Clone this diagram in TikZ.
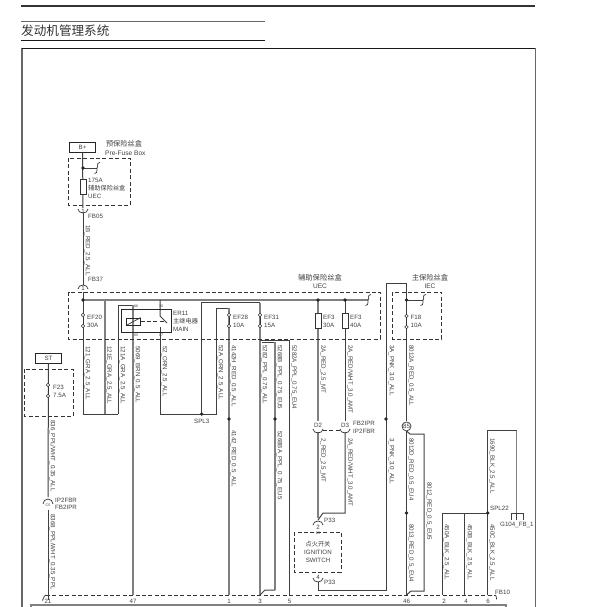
\documentclass[tikz,border=0pt]{standalone}
\usepackage{xcolor}
\usepackage{fontspec}
\setmainfont{Liberation Sans}
\newfontfamily\cjk{Noto Sans CJK SC}
\usetikzlibrary{positioning}
\definecolor{inkgrey}{gray}{0.25}
\tikzset{
  wire/.style={line width=1pt, draw=black!75},
  feed/.style={line width=1.3pt, draw=black!50},
  boxline/.style={line width=0.9pt, draw=black!80, dash pattern=on 4pt off 2.4pt},
  plug/.style={line width=0.7pt, draw=black!80},
  blob/.style={circle, fill=black!85, inner sep=0pt, minimum size=3.6pt},
  ringpin/.style={circle, draw=black!80, fill=white, line width=0.6pt, inner sep=0pt, minimum size=3.4pt},
  tag/.style={anchor=west, inner sep=0pt, text=inkgrey, font=\fontsize{6.2}{7}\selectfont},
  wiretag/.style={anchor=west, rotate=-90, inner sep=0pt, text=inkgrey, font=\fontsize{6.2}{7}\selectfont},
  midtag/.style={inner sep=0pt, text=inkgrey, font=\fontsize{6.2}{7}\selectfont},
  tiny/.style={inner sep=0pt, text=inkgrey, font=\fontsize{3.6}{4}\selectfont},
  termbox/.style={draw=black!85, line width=0.8pt, inner sep=0pt, minimum width=26pt, minimum height=10pt, text=inkgrey, font=\fontsize{6.2}{7}\selectfont},
  fusebox/.style={draw=black!80, line width=0.7pt, fill=white, inner sep=0pt, minimum width=6pt, minimum height=15pt}
}
\newcommand{\busend}[1]{\draw[plug] ([shift={(3,-5.5)}]#1) .. controls ([shift={(-1.5,-5)}]#1) and ([shift={(2,-1.5)}]#1) .. (#1) .. controls ([shift={(-1,1.5)}]#1) and ([shift={(1.5,5)}]#1) .. ([shift={(-2.5,5.5)}]#1);}
\begin{document}
\begin{tikzpicture}[x=1pt,y=-1pt]
            \useasboundingbox (0,0) rectangle (601,607);
            \foreach \n/\x/\y in {
                tl/21/6, tr/535/6, ua/21/21.5, ub/265/21.5, la/21/40.5, lb/265/40.5,
                fa/22/607, fb/22/48, fc/535/48, fd/535/607,
                ba/31/607, bb/31/605, bc/506/605, bd/506/607,
                pa/83/208, pb/83/213, pc/83/285, pd/83/292, pe/83/300, pf/83/414,
                bus/368/300, ta/105/300, tb/105/414, tc/118/414, td/118/305, te/133/305, tf/133/595,
                sa/160/300, sb/160/316, sc/167/323, sd/160/327, se/160/414, sf/201.7/414, sg/216/414,
                sh/216/308, si/229/308, sj/229/595, sk/201.7/302.5, sl/260/302.5, sm/260/595,
                qa/260/340, qb/289.5/340, qc/289.5/595, qd/262/342, qe/275/342, qf/275/590, qg/265/590,
                ka/318/300, kb/318/421, kc/345/300, kd/345/421, ke/318/432, kf/318/518, kg/345/432,
                kh/345/513, ki/323/513, kj/318/520, kk/318/582, kl/318/590, km/386/590, kn/386/283,
                ko/406.5/283, kp/406.5/421, kq/406.5/431, kr/406.5/595, ks/410/434, kt/424/434,
                ku/424/591, kv/411/591, kw/406.5/595,
                ya/487.7/430.5, yb/516.7/430.5, yc/516.7/513, yd/487.7/595, ye/442/513, yf/442/595, yg/464.7/513, yh/464.7/595,
                ga/511/520, gb/511/513, gc/523/513, gd/523/520, ge/516.7/520, yi/487.7/513,
                va/48/363, vb/48/497, vc/48/510, vd/48/600,
                da/46/595, db/495/595, dc/42/600, dd/497/599,
                ea/323/430, eb/340/430,
                sx/97/168, sy/423/300, sz/368/300} \coordinate (\n) at (\x,\y);
            \draw[line width=1.8pt, draw=black!80] (tl) -- (tr);
            \draw[line width=0.8pt, draw=black!60] (ua) -- (ub);
            \draw[line width=0.8pt, draw=black!90] (la) -- (lb);
            \draw[line width=1.2pt, draw=black!60] (fa) -- (fb);
            \draw[line width=0.8pt, draw=black!90] (fb) -- (fc);
            \draw[wire, draw=black!60] (fc) -- (fd);
            \draw[feed] (ba) -- (bb) -- (bc) -- (bd);
            \draw[boxline] (da) -- (db);
            \draw[plug] (dc) to[out=-70,in=180] (da);
            \draw[plug] (db) to[out=0,in=-120] (dd);
            \node[anchor=west, inner sep=0pt, text=black!80, font=\cjk\fontsize{12.6}{14}\selectfont] (title) at (21,31) {发动机管理系统};
            \node[termbox] (bplus) at (82.5,147) {B+};
            \node[termbox] (stbox) at (48.5,358) {ST};
            \draw[wire] (bplus) -- (pa);
            \draw[wire] (pb) -- (pc);
            \draw[wire] (pd) -- (pf) -- (tc);
            \draw[feed] (pe) -- (bus);
            \draw[feed] (ta) -- (tb);
            \draw[wire] (tc) -- (td) -- (te);
            \draw[feed] (te) -- (tf);
            \draw[wire] (sa) -- (sb) -- (sc);
            \draw[wire] (sd) -- (se) -- (sg) -- (sh) -- (si);
            \draw[feed] (si) -- (sj);
            \draw[wire] (sf) -- (sk) -- (sl);
            \draw[feed] (sl) -- (sm);
            \draw[wire] (qa) -- (qb) -- (qc);
            \draw[wire] (qd) -- (qe);
            \draw[feed] (qe) -- (qf);
            \draw[wire] (qf) -- (qg) -- (sm);
            \draw[feed] (ka) -- (kb);
            \draw[wire] (kc) -- (kd);
            \draw[feed] (ke) -- (kf);
            \draw[wire] (kg) -- (kh) -- (ki) -- (kj);
            \draw[wire] (kk) -- (kl) -- (km) -- (kn) -- (ko) -- (kp);
            \draw[wire] (kq) -- (kr);
            \draw[wire] (kq) -- (ks) -- (kt) -- (ku) -- (kv) -- (kw);
            \draw[wire] (ye) -- (yi);
            \draw[wire] (yd) -- (ya) -- (yb);
            \draw[feed] (yb) -- (yc);
            \draw[wire] (ye) -- (yf);
            \draw[wire] (yg) -- (yh);
            \draw[wire] (ga) -- (gb) -- (gc) -- (gd);
            \draw[wire] (yc) -- (ge);
            \draw[wire] (stbox) -- (vb);
            \draw[wire] (vc) -- (vd);
            \draw[boxline] (ea) -- (eb);
            \draw[boxline] (68.5,158) rectangle (130,205);
            \draw[boxline] (68.5,292) rectangle (380,339);
            \draw[boxline] (392.7,292) rectangle (441.7,339);
            \draw[boxline] (24.5,369) rectangle (73,416);
            \draw[boxline] (294,532) rectangle (341,572);
            \draw[plug] (78,209) arc[start angle=180,end angle=0,x radius=5,y radius=4];
            \draw[plug] (78,289) arc[start angle=180,end angle=360,x radius=5,y radius=4];
            \draw[plug] (43,504) arc[start angle=180,end angle=360,x radius=5,y radius=5];
            \draw[plug] (313,429) arc[start angle=180,end angle=0,x radius=5,y radius=4];
            \draw[plug] (340,429) arc[start angle=180,end angle=0,x radius=5,y radius=4];
            \draw[plug] (313,525) arc[start angle=180,end angle=360,x radius=5,y radius=4];
            \draw[plug] (313,578) arc[start angle=180,end angle=0,x radius=5,y radius=4];
            \draw[plug] (402,426) arc[start angle=180,end angle=0,x radius=4.5,y radius=5];
            \draw[plug] (402,426) arc[start angle=180,end angle=360,x radius=4.5,y radius=4];
            \draw[wire] (83,168) -- (sx);
            \draw[wire] (406.5,300) -- (sy);
            \busend{sx}
            \busend{sy}
            \busend{sz}
            \node[blob] (b1) at (83,168) {};
            \node[blob] (b2) at (83,300) {};
            \node[blob] (b3) at (318,300) {};
            \node[blob] (b4) at (345,300) {};
            \node[blob] (b5) at (406.5,300) {};
            \node[blob] (b6) at (201.7,414) {};
            \node[blob] (b7) at (229,419) {};
            \node[blob] (b8) at (275,419) {};
            \node[blob] (b9) at (386,419) {};
            \node[blob] (b10) at (406.5,513) {};
            \node[blob] (b11) at (487.7,513) {};
            \node[fusebox] (mainfuse) at (83,186.5) {};
            \node[fusebox] (fusea) at (318,320.5) {};
            \node[fusebox] (fuseb) at (345,320.5) {};
            \foreach \n/\x/\y in {a/83/315, b/83/326, c/229/315, d/229/326, e/260/315, f/260/326, g/406.5/316, h/406.5/327, i/48/385, j/48/396}
                \node[ringpin] (ring\n) at (\x,\y) {};
            \draw[plug] (ringa) -- (ringb);
            \draw[plug] (ringc) -- (ringd);
            \draw[plug] (ringe) -- (ringf);
            \draw[plug] (ringg) -- (ringh);
            \draw[plug] (ringi) -- (ringj);
            \node[draw=black!85, line width=0.9pt, inner sep=0pt, minimum width=50pt, minimum height=23pt] (relay) at (146.7,321) {};
            \node[draw=black!85, line width=0.8pt, inner sep=0pt, minimum width=13.5pt, minimum height=7pt] (coil) at (133.5,321.5) {};
            \draw[plug] (coil.south west) -- (coil.north east);
            \coordinate (blade) at (163.5,321.5);
            \draw[boxline] (coil.east) -- (blade);
            \node[midtag] (n1) at (124,144) {\cjk\fontsize{7.2}{8}\selectfont 预保险丝盒};
            \foreach \n/\x/\y/\t in {
                pfb/105/153.5/{\fontsize{6.6}{7}\selectfont Pre-Fuse Box},
                amp/88/180/175A, ubox/88/196/UEC,
                cbox/88/188/{\cjk\fontsize{6.2}{7}\selectfont 辅助保险丝盒},
                fbw/88/216.5/FB05, fbx/88/279/FB37,
                ef20/87/317.5/EF20, am30/87/325.5/30A,
                er11/173/313.5/ER11, zhu/173/321.5/{\cjk\fontsize{6.2}{7}\selectfont 主继电器}, rmain/173/329/MAIN,
                ef28/233/317.5/EF28, am10/233/325.5/10A,
                ef31/264/317.5/EF31, am15/264/325.5/15A,
                efa/323/317.5/EF3, ama/323/325.5/30A,
                efb/350/317.5/EF3, amb/350/325.5/40A,
                f18/410.5/317.5/F18, amc/410.5/325.5/10A,
                f23/53/387/F23, am75/53/395/7.5A,
                spl3/194/421/SPL3, fbi/353/423/FB2IPR, ipf/353/431/IP2FBR,
                ipb/55/500/IP2FBR, fbc/55/507.5/FB2IPR,
                pth/324/520.5/P33, ptl/324/582/P33,
                spl/490/508.5/SPL22, gnd/500/525/G104\_FB\_1, fbt/495/592.5/FB10} \node[tag] (\n) at (\x,\y) {\t};
            \foreach \n/\x/\y/\t in {
                upa/320/277.5/{\cjk\fontsize{7.3}{8}\selectfont 辅助保险丝盒}, upb/320/286.5/{\fontsize{6.6}{7}\selectfont UEC},
                upc/430/277.5/{\cjk\fontsize{7.3}{8}\selectfont 主保险丝盒}, upd/430/286.5/{\fontsize{6.6}{7}\selectfont IEC},
                iga/318/544/{\cjk\fontsize{6.2}{7}\selectfont 点火开关}, igb/318/552/IGNITION, igc/318/560/SWITCH,
                d2/318/425.5/D2, d3/345/425.5/D3,
                oa/83/211/1, ob/83/288/1, oc/318/527/2, od/318/577/4,
                ca/48/601/21, cb/133/601/47, cc/229/601/1, cd/260/601/3, ce/289.5/601/5,
                cf/406.5/601/46, cg/444/601/2, ch/466/601/4, ci/488/601/6} \node[midtag] (\n) at (\x,\y) {\t};
            \foreach \n/\x/\y/\t in {
                pa86/136/306/86, pa30/161/306/30, pa85/136/335.5/85, pa87/161/335.5/87,
                pa5/48/505.5/C5, pb5/318/533/B5} \node[tiny] (\n) at (\x,\y) {\t};
            \node[midtag] (ph5) at (406.5,426) {85};
            \foreach \n/\x/\y/\t in {
                wa/87.5/225/1B\_RED\_2.5\_ALL,
                wb/87.5/346/121\_GRA\_2.5\_ALL,
                wc/109/346/121E\_GRA\_2.5\_ALL,
                wd/122.5/346/121A\_GRA\_2.5\_ALL,
                we/137.5/346/5069\_BRN\_0.5\_ALL,
                wf/164.5/346/52\_ORN\_2.5\_ALL,
                wg/220.5/345/52A\_ORN\_2.5\_ALL,
                wh/233.5/345/4142H\_RED\_0.5\_ALL,
                wi/233.5/430/4142\_RED\_0.5\_ALL,
                wj/264.5/345/5282\_PPL\_0.75\_ALL,
                wk/279.5/345/5268B\_PPL\_0.75\_EU5,
                wl/294/345/5282A\_PPL\_0.75\_EU4,
                wm/279.5/431/5268BA\_PPL\_0.75\_EU5,
                wn/323/345/2A\_RED\_2.5\_MT,
                wo/350/345/{2A\_RED/WHT\_3.0\_AMT},
                wp/323/438/2\_RED\_2.5\_MT,
                wq/350/438/{2A\_RED/WHT\_3.0\_AMT},
                wr/391.5/345/3A\_PNK\_3.0\_ALL,
                ws/391.5/438/3\_PNK\_3.0\_ALL,
                wt/411/345/8012A\_RED\_0.5\_ALL,
                wu/411/438/8012D\_RED\_0.5\_EU4,
                wv/411/524/8013\_RED\_0.5\_EU4,
                ww/429/482/8012\_RED\_0.5\_EU5,
                wx/492/438/1690\_BLK\_2.5\_ALL,
                wy/446.5/524/450A\_BLK\_2.5\_ALL,
                wz/469.5/524/450B\_BLK\_2.5\_ALL,
                xa/492/524/450C\_BLK\_2.5\_ALL,
                xb/52.5/420/{836\_PPL/WHT\_0.35\_ALL},
                xc/52.5/514/{8368\_PPL/WHT\_0.35\_PPL}} \node[wiretag] (\n) at (\x,\y) {\t};
        \end{tikzpicture}
\end{document}
